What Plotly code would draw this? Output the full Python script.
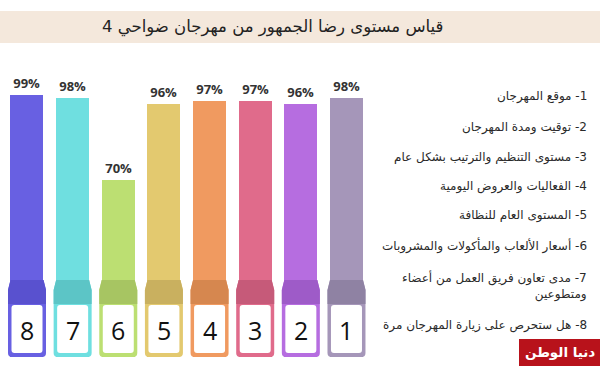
import plotly.graph_objects as go

# ---- data ----
items = [8, 7, 6, 5, 4, 3, 2, 1]
values = [99, 98, 70, 96, 97, 97, 96, 98]
colors = ["#6860e2", "#6fdfe0", "#bcdf72", "#e3c96f", "#f09a60", "#e06b8b", "#b66de0", "#a596b9"]
dark_colors = ["#5951cf", "#5cc5c6", "#a7c562", "#c9b05f", "#d6874f", "#c65a79", "#9e5bc8", "#8f82a3"]
labels = [
    "1- موقع المهرجان",
    "2- توقيت ومدة المهرجان",
    "3- مستوى التنظيم والترتيب بشكل عام",
    "4- الفعاليات والعروض اليومية",
    "5- المستوى العام للنظافة",
    "6- أسعار الألعاب والمأكولات والمشروبات",
    "7- مدى تعاون فريق العمل من أعضاء<br>ومتطوعين",
    "8- هل ستحرص على زيارة المهرجان مرة",
]
title = "قياس مستوى رضا الجمهور من مهرجان ضواحي 4"
watermark = "دنيا الوطن"

RLM = "\u200f"
W, H = 600, 366
PX_PER_UNIT = 45.64  # horizontal px per item
K = 2.936            # vertical px per percent
Y0 = 385.9           # px of value 0
PLOT_BOTTOM, PLOT_TOP = 357, 50

def py(px):  # pixel y -> paper y
    return (H - px) / H

def ux(px):  # pixel width -> x data units
    return px / PX_PER_UNIT

def rtl(s):
    return "<br>".join(RLM + part for part in s.split("<br>"))

fig = go.Figure()
fig.add_trace(go.Bar(
    x=items, y=values,
    width=ux(33),
    marker=dict(color=colors, line=dict(width=0)),
    text=[f"<b>{v}%</b>" for v in values],
    textposition="outside",
    textfont=dict(family="Open Sans", size=13, color="#333333"),
    cliponaxis=False,
    hoverinfo="skip",
))

shapes = []
annotations = []

# title band
shapes.append(dict(type="rect", xref="paper", yref="paper", x0=0, x1=1,
                   y0=py(43), y1=py(11), fillcolor="#f4e8dc", line=dict(width=0), layer="below"))
annotations.append(dict(text=rtl(title), xref="paper", yref="paper", x=273 / W, y=py(27),
                        xanchor="center", yanchor="middle", showarrow=False,
                        font=dict(family="DejaVu Sans", size=16.5, color="#222222")))

for n, c, dc in zip(items, colors, dark_colors):
    ht = ux(16.5)
    hb = ux(19)
    r = ux(4)
    ry = 4 / H
    path = (f"M {n-ht},{py(280)} L {n+ht},{py(280)} L {n+hb},{py(290)} "
            f"L {n+hb},{py(357)+ry} Q {n+hb},{py(357)} {n+hb-r},{py(357)} "
            f"L {n-hb+r},{py(357)} Q {n-hb},{py(357)} {n-hb},{py(357)+ry} "
            f"L {n-hb},{py(290)} Z")
    shapes.append(dict(type="path", xref="x", yref="paper", path=path,
                       fillcolor=c, line=dict(width=0)))
    band = (f"M {n-ht},{py(280)} L {n+ht},{py(280)} L {n+hb},{py(290)} "
            f"L {n+hb},{py(304)} L {n-hb},{py(304)} L {n-hb},{py(290)} Z")
    shapes.append(dict(type="path", xref="x", yref="paper", path=band,
                       fillcolor=dc, line=dict(width=0)))
    bw = ux(15.5)
    r2 = ux(3)
    ry2 = 3 / H
    y_t, y_b = py(305), py(353)
    box = (f"M {n-bw+r2},{y_t} L {n+bw-r2},{y_t} Q {n+bw},{y_t} {n+bw},{y_t-ry2} "
           f"L {n+bw},{y_b+ry2} Q {n+bw},{y_b} {n+bw-r2},{y_b} "
           f"L {n-bw+r2},{y_b} Q {n-bw},{y_b} {n-bw},{y_b+ry2} "
           f"L {n-bw},{y_t-ry2} Q {n-bw},{y_t} {n-bw+r2},{y_t} Z")
    shapes.append(dict(type="path", xref="x", yref="paper", path=box,
                       fillcolor="#ffffff", line=dict(width=0)))
    annotations.append(dict(text=str(n), xref="x", yref="paper", x=n, y=py(330),
                            xanchor="center", yanchor="middle", showarrow=False,
                            font=dict(family="Open Sans", size=25, color="#111111")))

label_y = [97, 127, 157, 186, 215, 245, 286, 325]
for t, yy in zip(labels, label_y):
    annotations.append(dict(text=rtl(t), xref="paper", yref="paper", x=589 / W, y=py(yy),
                            xanchor="right", yanchor="middle", align="right", showarrow=False,
                            font=dict(family="DejaVu Sans", size=12, color="#2a2a2a")))

shapes.append(dict(type="rect", xref="paper", yref="paper", x0=519 / W, x1=1,
                   y0=0, y1=py(339), fillcolor="#b8121b", line=dict(width=0)))
annotations.append(dict(text=rtl(f"<b>{watermark}</b>"), xref="paper", yref="paper", x=560 / W, y=py(352),
                        xanchor="center", yanchor="middle", showarrow=False,
                        font=dict(family="DejaVu Sans", size=13.5, color="#ffffff")))

x_lo = 27 - 0.5 * PX_PER_UNIT
x_hi = 27 + 7.5 * PX_PER_UNIT
fig.update_layout(
    width=W, height=H,
    margin=dict(l=0, r=0, t=0, b=0),
    paper_bgcolor="#ffffff", plot_bgcolor="rgba(0,0,0,0)",
    showlegend=False,
    xaxis=dict(range=[8.5, 0.5], domain=[x_lo / W, x_hi / W], visible=False, fixedrange=True),
    yaxis=dict(range=[(Y0 - PLOT_BOTTOM) / K, (Y0 - PLOT_TOP) / K],
               domain=[py(PLOT_BOTTOM), py(PLOT_TOP)], visible=False, fixedrange=True),
    shapes=shapes,
    annotations=annotations,
    bargap=0,
)

fig.write_html("out.html", config={"displayModeBar": False},
               post_script="document.body.style.margin='0';document.body.style.overflow='hidden';")
